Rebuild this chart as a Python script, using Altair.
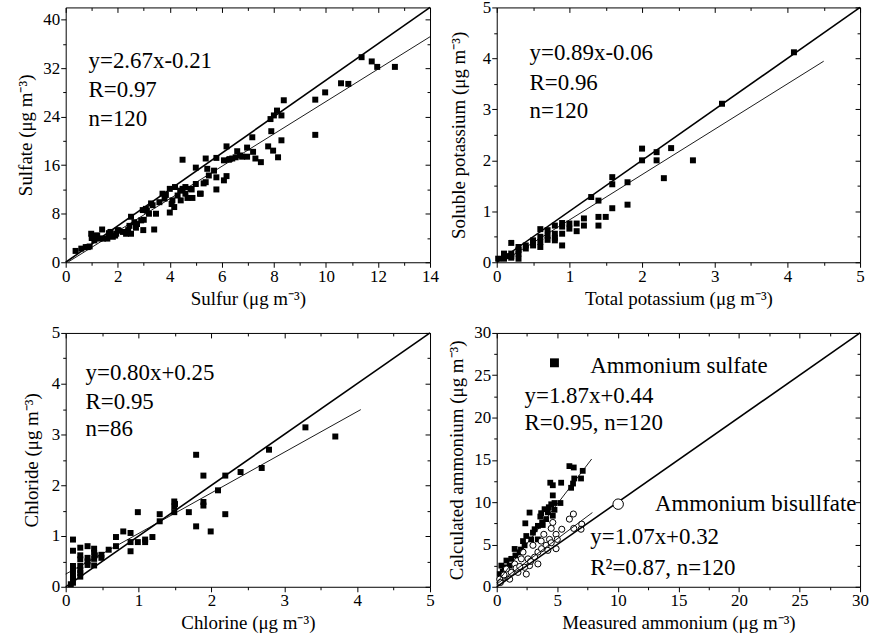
import altair as alt
import pandas as pd

FONT = "Liberation Serif, Times New Roman, serif"

# ---------------- Panel 1: Sulfur vs Sulfate ----------------
p1_x = [0.38, 0.6, 0.77, 0.92, 0.98, 1.02, 1.17, 1.3, 1.4, 1.43, 1.6, 1.72, 1.81, 1.94, 2.0,
        2.32, 2.4, 2.45, 2.51, 2.51, 2.64, 2.7, 2.9, 2.96, 2.98, 3.08, 3.2, 3.28, 3.34, 3.4,
        3.47, 3.6, 3.72, 3.85, 4.0, 4.0, 4.1, 4.17, 4.2, 4.3, 4.42, 4.49, 4.49, 4.6, 4.68,
        4.8, 4.87, 5.0, 5.0, 5.19, 5.38, 5.38, 5.44, 5.5, 5.7, 5.79, 5.79, 5.79, 6.08, 6.08,
        6.18, 6.18, 6.27, 6.4, 6.53, 6.59, 6.78, 6.97, 6.97, 7.17, 7.2, 7.29, 7.5, 7.78, 7.87,
        7.9, 7.97, 8.0, 8.12, 8.16, 8.29, 8.29, 8.38, 9.59, 9.59, 9.97, 10.58, 10.86, 11.37,
        11.76, 11.97, 12.65, 1.21, 1.66, 2.04, 2.74, 3.12, 3.8, 4.07, 4.84, 5.16, 5.3, 1.1,
        0.85, 1.0, 2.2, 3.0, 4.4, 4.6, 6.3, 6.7, 1.9]
p1_y = [1.87, 2.25, 2.5, 2.6, 4.7, 4.2, 4.4, 3.9, 5.4, 3.9, 3.9, 5.0, 4.2, 4.7, 5.3,
        4.7, 5.3, 6.0, 7.5, 4.7, 6.6, 5.7, 6.9, 8.6, 5.3, 8.8, 8.0, 9.7, 9.4, 5.4,
        8.0, 9.9, 11.3, 11.1, 8.2, 12.1, 10.2, 9.1, 12.4, 11.0, 10.2, 16.9, 12.1, 11.3, 10.6,
        12.1, 10.6, 12.9, 15.6, 11.3, 17.1, 13.2, 15.4, 14.3, 15.1, 12.0, 14.0, 17.2, 13.5, 16.8,
        19.1, 14.2, 16.9, 17.1, 17.3, 18.3, 17.4, 18.9, 17.4, 20.6, 18.2, 17.1, 16.5, 19.1, 23.6,
        21.6, 18.4, 24.2, 25.0, 17.3, 24.2, 20.1, 26.7, 26.8, 21.0, 28.0, 29.5, 29.4, 33.8,
        33.1, 32.2, 32.2, 4.4, 4.8, 5.2, 6.3, 8.5, 10.5, 9.6, 12.0, 11.3, 13.0, 3.6,
        2.5, 4.0, 5.0, 7.0, 11.8, 12.4, 17.0, 17.6, 4.4]
p1_ref_x = [0, 14]          # thick line y = 3x
p1_ref_slope = 3.0
p1_fit_x = [0.1, 14]        # y = 2.67x - 0.21
p1_fit = (2.67, -0.21)
p1_text = ["y=2.67x-0.21", "R=0.97", "n=120"]

# ---------------- Panel 2: Total vs soluble potassium ----------------
p2_x = [4.09, 3.1, 2.7, 2.4, 2.3, 2.2, 2.2, 2.0, 2.0, 1.8, 1.8, 1.59, 1.59, 1.59, 1.5,
        1.4, 1.4, 1.4, 1.3, 1.2, 1.2, 1.1, 1.1, 1.0, 1.0, 0.9, 0.9, 0.9, 0.8, 0.8, 0.8,
        0.7, 0.7, 0.6, 0.6, 0.6, 0.5, 0.5, 0.4, 0.4, 0.3, 0.3, 0.3, 0.2, 0.2, 0.2, 0.1,
        0.1, 0.02, 0.6, 0.7, 0.8, 0.9, 0.3, 0.2, 0.15, 0.5]
p2_y = [4.12, 3.11, 2.0, 2.24, 1.65, 2.16, 2.0, 2.23, 2.0, 1.57, 1.13, 1.67, 1.53, 1.06, 0.89,
        1.21, 0.89, 0.72, 1.28, 0.86, 0.72, 0.76, 0.61, 0.76, 0.66, 0.77, 0.56, 0.33, 0.72, 0.56, 0.43,
        0.63, 0.44, 0.65, 0.5, 0.3, 0.43, 0.33, 0.33, 0.27, 0.3, 0.17, 0.07, 0.38, 0.17, 0.09, 0.17,
        0.07, 0.07, 0.4, 0.52, 0.48, 0.7, 0.24, 0.12, 0.12, 0.38]
p2_ref_x = [0, 5]
p2_ref_slope = 1.0
p2_fit_x = [0.1, 4.5]
p2_fit = (0.89, -0.06)
p2_text = ["y=0.89x-0.06", "R=0.96", "n=120"]

# ---------------- Panel 3: Chlorine vs Chloride ----------------
p3_x = [3.7, 3.29, 2.79, 2.69, 2.4, 2.19, 2.19, 2.09, 1.99, 1.89, 1.89, 1.89, 1.79, 1.79, 1.69,
        1.49, 1.49, 1.49, 1.5, 1.29, 1.29, 1.19, 1.09, 1.09, 0.99, 0.99, 0.89, 0.89, 0.89, 0.79,
        0.69, 0.69, 0.59, 0.49, 0.49, 0.39, 0.39, 0.39, 0.39, 0.3, 0.3, 0.3, 0.2, 0.2, 0.2,
        0.2, 0.2, 0.1, 0.1, 0.1, 0.1, 0.1, 0.1, 0.07, 0.1, 0.2, 0.3, 0.1, 0.2, 0.4]
p3_y = [2.96, 3.14, 2.7, 2.34, 2.26, 2.19, 1.43, 1.9, 1.09, 2.19, 1.67, 1.6, 2.6, 1.19, 1.47,
        1.68, 1.58, 1.47, 1.63, 1.43, 1.29, 0.98, 0.93, 0.88, 1.47, 0.88, 1.06, 0.88, 0.7, 1.09,
        0.98, 0.8, 0.73, 0.63, 0.57, 0.75, 0.67, 0.55, 0.42, 0.8, 0.57, 0.43, 0.77, 0.54, 0.41,
        0.27, 0.2, 0.93, 0.71, 0.41, 0.31, 0.21, 0.08, 0.05, 0.15, 0.33, 0.5, 0.35, 0.62, 0.62]
p3_ref_x = [0, 5]
p3_ref_slope = 1.0
p3_fit_x = [0.0, 4.05]
p3_fit = (0.80, 0.25)
p3_text = ["y=0.80x+0.25", "R=0.95", "n=86"]

# ---------------- Panel 4: Measured vs calculated ammonium ----------------
p4_sq_x = [6.0, 6.36, 7.1, 6.96, 6.4, 6.14, 6.3, 4.42, 4.63, 5.32, 4.63, 4.77, 5.26, 4.5, 3.95,
           4.77, 4.22, 3.67, 2.71, 4.63, 4.08, 3.75, 2.36, 3.4, 2.99, 2.44, 2.17, 2.85, 3.4, 1.48,
           1.89, 1.54, 0.8, 0.38, 0.66, 1.07, 0.25, 2.3, 3.13, 4.3, 3.8, 2.0, 1.2, 0.5, 3.6]
p4_sq_y = [14.26, 14.1, 13.7, 12.8, 12.8, 11.7, 12.2, 12.3, 12.0, 12.3, 10.8, 9.9, 9.9, 9.75, 9.17,
           9.1, 8.8, 8.7, 8.77, 8.4, 8.0, 7.6, 7.5, 7.2, 6.4, 6.0, 5.4, 5.6, 5.6, 4.47,
           4.07, 3.7, 3.1, 2.5, 2.3, 2.5, 1.5, 4.9, 6.8, 9.4, 7.3, 4.4, 3.3, 1.8, 8.3]
p4_ci_x = [6.33, 6.0, 7.02, 6.96, 6.36, 5.37, 4.63, 4.5, 4.9, 4.36, 4.9, 3.89, 3.67, 4.08, 3.4,
           2.99, 2.58, 2.71, 2.3, 2.17, 1.48, 1.75, 1.2, 0.8, 0.52, 0.25, 1.07, 2.03, 4.22, 3.13,
           3.4, 2.44, 1.6, 2.8, 3.7, 0.3, 0.6, 1.9, 4.5, 5.0]
p4_ci_y = [8.6, 8.0, 7.4, 6.8, 6.9, 6.8, 7.6, 6.9, 6.2, 5.6, 4.5, 6.2, 5.4, 4.9, 4.1,
           4.9, 3.3, 2.5, 2.3, 4.1, 2.7, 1.7, 1.7, 2.1, 1.1, 0.9, 0.9, 3.3, 4.3, 3.5,
           2.7, 1.5, 2.2, 3.0, 4.5, 0.5, 1.4, 2.4, 5.2, 5.6]
p4_ref_x = [0, 30]
p4_ref_slope = 1.0
p4_fit_sq_x = [0.0, 7.84]
p4_fit_sq = (1.87, 0.44)
p4_fit_ci_x = [0.0, 7.9]
p4_fit_ci = (1.07, 0.32)
p4_text_sq = ["Ammonium sulfate", "y=1.87x+0.44", "R=0.95, n=120"]
p4_text_ci = ["Ammonium bisullfate", "y=1.07x+0.32", "R\u00b2=0.87, n=120"]

W_L, W_R = 366, 365
H_T, H_B = 256, 255

AX_COMMON = dict(domain=False, grid=False, tickColor="black", tickWidth=1, zindex=1,
                 labelFont=FONT, labelFontSize=17, labelColor="black",
                 labelFlush=False, labelOverlap=False,
                 titleFont=FONT, titleFontSize=19, titleFontWeight="normal",
                 titleColor="black")


def axis_set(kind, orient, values, title=None, title_off=None):
    size = 5 if kind == "major" else 3
    outer = orient in ("bottom", "left")
    d = dict(orient=orient, values=values, tickSize=size, offset=0 if outer else -size,
             **AX_COMMON)
    if kind == "major" and outer:
        d.update(labels=True, labelPadding=1)
    else:
        d.update(labels=False)
    if title is not None:
        d["title"] = title
        if orient == "bottom":
            d.update(titleY=title_off, titleBaseline="middle")
        else:
            d.update(titleX=title_off, titleBaseline="middle", titleAngle=270)
    else:
        d["title"] = None
    return alt.Axis(**d)


def line_df(xs, slope, intercept):
    return pd.DataFrame({"x": xs, "y": [slope * v + intercept for v in xs]})


def panel(w, h, xdom, ydom, xmaj, xmin, ymaj, ymin, xtitle, ytitle, ytoff,
          point_layers, line_layers, text_layers):
    xs = alt.Scale(domain=xdom, nice=False, zero=False)
    ys = alt.Scale(domain=ydom, nice=False, zero=False)
    helper = pd.DataFrame({"x": xdom, "y": ydom})
    axis_specs = [
        ("major", "bottom", xmaj, "left", ymaj, xtitle, ytitle),
        ("major", "top", xmaj, "right", ymaj, None, None),
        ("minor", "bottom", xmin, "left", ymin, None, None),
        ("minor", "top", xmin, "right", ymin, None, None),
    ]
    layers = []
    for kind, xo, xv, yo, yv, xt, yt in axis_specs:
        layers.append(
            alt.Chart(helper).mark_point(opacity=0).encode(
                x=alt.X("x:Q", scale=xs, axis=axis_set(kind, xo, xv, xt, 36)),
                y=alt.Y("y:Q", scale=ys, axis=axis_set(kind, yo, yv, yt, ytoff)),
            )
        )
    for df, mk in point_layers:
        layers.append(
            mk(alt.Chart(df)).encode(
                x=alt.X("x:Q", scale=xs, axis=None),
                y=alt.Y("y:Q", scale=ys, axis=None),
            )
        )
    for df, sw in line_layers:
        layers.append(
            alt.Chart(df).mark_line(color="black", strokeWidth=sw).encode(
                x=alt.X("x:Q", scale=xs, axis=None),
                y=alt.Y("y:Q", scale=ys, axis=None),
            )
        )
    layers.extend(text_layers)
    return alt.layer(*layers).resolve_axis(x="independent", y="independent").properties(
        width=w, height=h)


def sq(size=36):
    return lambda c: c.mark_square(size=size, color="black", opacity=1)


def circ(size=38):
    return lambda c: c.mark_point(shape="circle", filled=True, fill="white", stroke="black",
                                  strokeWidth=1, size=size, opacity=1)


def text_block(lines, left, tops, size=23):
    df = pd.DataFrame({"t": lines, "py": tops})
    return alt.Chart(df).mark_text(align="left", baseline="middle", font=FONT, fontSize=size,
                                   color="black").encode(
        x=alt.value(left), y=alt.Y("py:Q", scale=None), text="t:N")


def pts(xs, ys):
    return pd.DataFrame({"x": xs, "y": ys})


unit = "(\u03bcg m\u207b\u00b3)"

p1 = panel(W_L, H_T, [0, 14], [0, 42], list(range(0, 15, 2)), list(range(1, 14, 2)),
           list(range(0, 41, 8)), list(range(4, 41, 8)),
           f"Sulfur {unit}", f"Sulfate {unit}", -40,
           [(pts(p1_x, p1_y), sq())],
           [(line_df(p1_ref_x, p1_ref_slope, 0), 1.6), (line_df(p1_fit_x, *p1_fit), 0.9)],
           [text_block(p1_text, 23, [54, 83, 112])])

p2 = panel(W_R, H_T, [0, 5], [0, 5], [0, 1, 2, 3, 4, 5], [0.5, 1.5, 2.5, 3.5, 4.5],
           [0, 1, 2, 3, 4, 5], [0.5, 1.5, 2.5, 3.5, 4.5],
           f"Total potassium {unit}", f"Soluble potassium {unit}", -38,
           [(pts(p2_x, p2_y), sq())],
           [(line_df(p2_ref_x, p2_ref_slope, 0), 1.6), (line_df(p2_fit_x, *p2_fit), 0.9)],
           [text_block(p2_text, 33, [46, 76, 104])])

p3 = panel(W_L, H_B, [0, 5], [0, 5], [0, 1, 2, 3, 4, 5], [0.5, 1.5, 2.5, 3.5, 4.5],
           [0, 1, 2, 3, 4, 5], [0.5, 1.5, 2.5, 3.5, 4.5],
           f"Chlorine {unit}", f"Chloride {unit}", -34,
           [(pts(p3_x, p3_y), sq())],
           [(line_df(p3_ref_x, p3_ref_slope, 0), 1.6), (line_df(p3_fit_x, *p3_fit), 0.9)],
           [text_block(p3_text, 20, [40, 69, 97])])

legend_sq = alt.Chart(pd.DataFrame({"k": ["s"]})).mark_square(
    size=80, color="black", opacity=1).encode(x=alt.value(58), y=alt.value(30))
legend_ci = alt.Chart(pd.DataFrame({"k": ["c"]})).mark_point(
    shape="circle", filled=True, fill="white", stroke="black", strokeWidth=1,
    size=110, opacity=1).encode(x=alt.value(122), y=alt.value(172))

p4 = panel(W_R, H_B, [0, 30], [0, 30], list(range(0, 31, 5)), [2.5 + 5 * i for i in range(6)],
           list(range(0, 31, 5)), [2.5 + 5 * i for i in range(6)],
           f"Measured ammonium {unit}", f"Calculated ammonium {unit}", -40,
           [(pts(p4_sq_x, p4_sq_y), sq(34)), (pts(p4_ci_x, p4_ci_y), circ())],
           [(line_df(p4_ref_x, p4_ref_slope, 0), 1.6), (line_df(p4_fit_sq_x, *p4_fit_sq), 0.9),
            (line_df(p4_fit_ci_x, *p4_fit_ci), 0.9)],
           [legend_sq, legend_ci,
            text_block(p4_text_sq[:1], 94, [33]),
            text_block(p4_text_sq[1:], 28, [63, 91]),
            text_block(p4_text_ci[:1], 159, [172]),
            text_block(p4_text_ci[1:], 94, [205, 236])])

chart = alt.concat(p1, p2, p3, p4, columns=2, spacing={"row": 71, "column": 67},
                   bounds="flush").configure_view(stroke="black", strokeWidth=1).properties(
    padding={"left": 16, "top": -4, "right": 5, "bottom": 5})

chart.save("out.html", embed_options={"renderer": "svg", "actions": False})
